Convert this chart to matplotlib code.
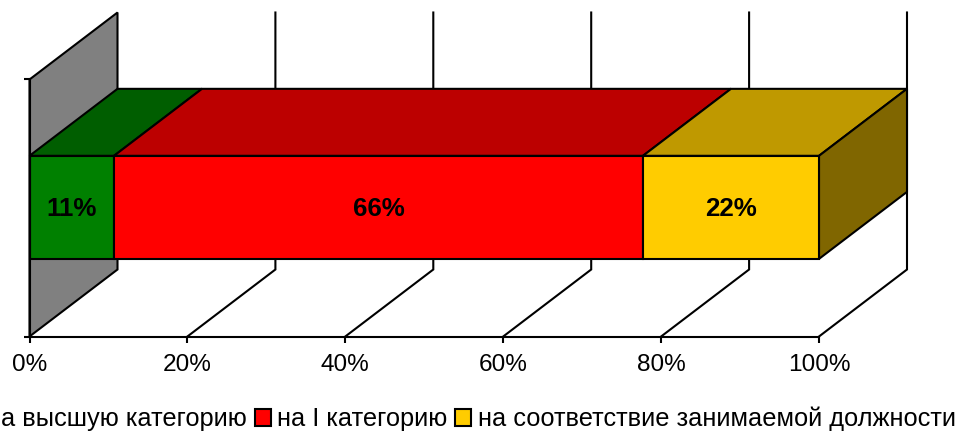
import matplotlib
matplotlib.use("Agg")
import matplotlib.pyplot as plt
from matplotlib.patches import Patch, Polygon

plt.rcParams['font.family'] = ['Liberation Sans', 'DejaVu Sans']

series_names = ['на высшую категорию', 'на I категорию', 'на соответствие занимаемой должности']
values = [10.7, 67.0, 22.3]
value_labels = ['11%', '66%', '22%']
x_ticks = [0, 20, 40, 60, 80, 100]
x_tick_labels = ['0%', '20%', '40%', '60%', '80%', '100%']

front_colors = ['#008000', '#FF0000', '#FFCC00']
top_colors = ['#005E00', '#BC0000', '#BF9900']
side_color = '#806600'
wall_color = '#808080'
LW = 1.5
W, H = 960, 434

fig = plt.figure(figsize=(W / 100, H / 100), dpi=100)
ax = fig.add_axes([29.5 / W, (H - 336.5) / H, 789.5 / W, 257 / H])
ax.set_xlim(0, 100)
ax.set_ylim(0, 1)

# depth vector of the 3D box, in data units
dx, dy = 88 / 7.895, 67 / 257
bar_lo, bar_hi = 0.302, 0.703

for s in ('top', 'right'):
    ax.spines[s].set_visible(False)
for s in ('left', 'bottom'):
    ax.spines[s].set_linewidth(LW)
    ax.spines[s].set_zorder(4)

ax.add_patch(Polygon([(0, 0), (dx, dy), (dx, 1 + dy), (0, 1)], closed=True,
                     facecolor=wall_color, edgecolor='black', lw=LW, zorder=1,
                     clip_on=False))
for t in x_ticks[1:]:
    ax.plot([t, t + dx, t + dx], [0, dy, 1 + dy], color='black', lw=LW, zorder=1,
            clip_on=False, solid_joinstyle='miter')

left = 0
for v, fc, tc, lab in zip(values, front_colors, top_colors, value_labels):
    ax.add_patch(Polygon([(left, bar_hi), (left + v, bar_hi),
                          (left + v + dx, bar_hi + dy), (left + dx, bar_hi + dy)],
                         closed=True, facecolor=tc, edgecolor='black', lw=LW,
                         zorder=2, clip_on=False))
    ax.barh((bar_lo + bar_hi) / 2, v, height=bar_hi - bar_lo, left=left, color=fc,
            edgecolor='black', linewidth=LW, zorder=3, clip_on=False)
    ax.annotate(lab, ((left + v / 2), (bar_lo + bar_hi) / 2), xytext=(0, -1.5),
                textcoords='offset points', ha='center', va='center',
                fontsize=18.6, fontweight='bold', color='black', zorder=5)
    left += v
ax.add_patch(Polygon([(left, bar_lo), (left + dx, bar_lo + dy),
                      (left + dx, bar_hi + dy), (left, bar_hi)], closed=True,
                     facecolor=side_color, edgecolor='black', lw=LW, zorder=2,
                     clip_on=False))

ax.set_xticks(x_ticks)
ax.set_xticklabels(x_tick_labels)
ax.set_yticks([0, 1])
ax.set_yticklabels([])
ax.tick_params(axis='x', length=4, width=LW, labelsize=17.6, pad=8.5)
ax.tick_params(axis='y', length=4, width=LW)
ax.patch.set_visible(False)

handles = [Patch(facecolor=c, edgecolor='black', linewidth=LW) for c in front_colors]
fig.legend(handles, series_names, ncols=3, frameon=False, fontsize=18.3,
           loc='center', bbox_to_anchor=(460 / W, (H - 419) / H),
           handlelength=0.63, handleheight=0.63, handletextpad=0.24,
           columnspacing=0.33, borderpad=0, borderaxespad=0)

fig.savefig('out.png', dpi=100)
